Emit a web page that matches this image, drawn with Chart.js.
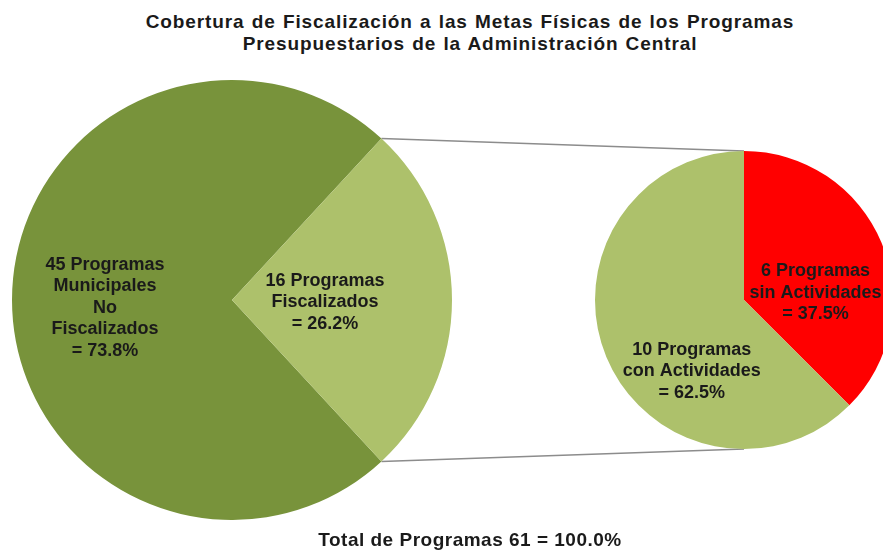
<!DOCTYPE html>
<html>
<head>
<meta charset="utf-8">
<script src="https://cdn.jsdelivr.net/npm/chart.js@4/dist/chart.umd.min.js"></script>
<style>
  html, body { margin: 0; padding: 0; background: #fff; overflow: hidden; }
  #wrap { position: relative; width: 883px; height: 552px; overflow: hidden; background: #fff; }
  .txt { position: absolute; font-family: "Liberation Sans", Arial, sans-serif; font-weight: bold; color: #1a1a1a; text-align: center; white-space: nowrap; }
  #title { left: 0; width: 940px; top: 11px; font-size: 19px; line-height: 22px; letter-spacing: 0.9px; word-spacing: 1px; }
  #footer { left: 0; width: 940px; top: 529px; font-size: 19px; line-height: 22px; letter-spacing: 0.5px; }
  canvas { position: absolute; }
  #bigPie { left: 12px; top: 80px; }
  #smallPie { left: 595px; top: 151px; }
  #lines { left: 0; top: 0; pointer-events: none; }
</style>
</head>
<body>
<div id="wrap">
  <div id="title" class="txt">Cobertura de Fiscalización a las Metas Físicas de los Programas<br>Presupuestarios de la Administración Central</div>
  <canvas id="lines" width="883" height="552"></canvas>
  <canvas id="bigPie" width="440" height="440"></canvas>
  <canvas id="smallPie" width="298" height="298"></canvas>
  <div id="footer" class="txt"></div>
</div>
<script>
// Datos del gráfico
const bigCategories = [["Municipales", "No", "Fiscalizados"], ["Fiscalizados"]];
const bigValues = [45, 16];
const bigColors = ["#78933b", "#adc16b"];

const smallCategories = [["sin Actividades"], ["con Actividades"]];
const smallValues = [6, 10];
const smallColors = ["#ff0000", "#adc16b"];

// Posición de las etiquetas (fracción del radio)
const bigLabelPos = [[-0.577, 0.036], [0.423, 0.01]];
const smallLabelPos = [[0.48, -0.05], [-0.35, 0.48]];

function sum(arr) { return arr.reduce((a, b) => a + b, 0); }

function buildLines(values, cats) {
  const total = sum(values);
  return values.map((v, i) => [v + " Programas"].concat(cats[i], ["= " + (v / total * 100).toFixed(1) + "%"]));
}

// Plugin para las etiquetas dentro de las porciones
const sliceLabels = {
  id: "sliceLabels",
  afterDatasetsDraw(chart, args, opts) {
    const ctx = chart.ctx;
    const meta = chart.getDatasetMeta(0);
    ctx.save();
    ctx.font = "bold 18px 'Liberation Sans', Arial, sans-serif";
    ctx.fillStyle = "#1a1a1a";
    ctx.textAlign = "center";
    ctx.textBaseline = "middle";
    meta.data.forEach((arc, i) => {
      const lines = opts.lines[i];
      const cx = arc.x + arc.outerRadius * opts.pos[i][0];
      const cy = arc.y + arc.outerRadius * opts.pos[i][1];
      const lh = 21.5;
      const y0 = cy - (lines.length - 1) * lh / 2;
      lines.forEach((t, j) => ctx.fillText(t, cx, y0 + j * lh));
    });
    ctx.restore();
  }
};

function pieOptions(rotation, lines, pos) {
  return {
    responsive: false,
    animation: false,
    rotation: rotation,
    layout: { padding: 0 },
    plugins: {
      legend: { display: false },
      tooltip: { enabled: false },
      sliceLabels: { lines: lines, pos: pos }
    }
  };
}

// Gráfico grande: la porción fiscalizada queda centrada a la derecha
const bigRotation = 90 + 180 * bigValues[1] / sum(bigValues);
const bigChart = new Chart(document.getElementById("bigPie"), {
  type: "pie",
  data: {
    labels: ["No Fiscalizados", "Fiscalizados"],
    datasets: [{ data: bigValues, backgroundColor: bigColors, borderWidth: 0 }]
  },
  options: pieOptions(bigRotation, buildLines(bigValues, bigCategories), bigLabelPos),
  plugins: [sliceLabels]
});

const smallChart = new Chart(document.getElementById("smallPie"), {
  type: "pie",
  data: {
    labels: ["sin Actividades", "con Actividades"],
    datasets: [{ data: smallValues, backgroundColor: smallColors, borderWidth: 0 }]
  },
  options: pieOptions(0, buildLines(smallValues, smallCategories), smallLabelPos),
  plugins: [sliceLabels]
});

// Líneas de conexión entre los dos gráficos
function drawConnectors() {
  const ctx = document.getElementById("lines").getContext("2d");
  const bigCanvas = document.getElementById("bigPie");
  const smallCanvas = document.getElementById("smallPie");
  const arc = bigChart.getDatasetMeta(0).data[1];
  const sArc = smallChart.getDatasetMeta(0).data[0];
  const bx = bigCanvas.offsetLeft + arc.x, by = bigCanvas.offsetTop + arc.y;
  const sx = smallCanvas.offsetLeft + sArc.x, sy = smallCanvas.offsetTop + sArc.y;
  const r = arc.outerRadius, sr = sArc.outerRadius;
  ctx.strokeStyle = "#8c8c8c";
  ctx.lineWidth = 1.5;
  ctx.beginPath();
  ctx.moveTo(bx + r * Math.cos(arc.startAngle), by + r * Math.sin(arc.startAngle));
  ctx.lineTo(sx, sy - sr);
  ctx.moveTo(bx + r * Math.cos(arc.endAngle), by + r * Math.sin(arc.endAngle));
  ctx.lineTo(sx, sy + sr);
  ctx.stroke();
}
drawConnectors();

document.getElementById("footer").textContent = "Total de Programas " + sum(bigValues) + " = 100.0%";
</script>
</body>
</html>
